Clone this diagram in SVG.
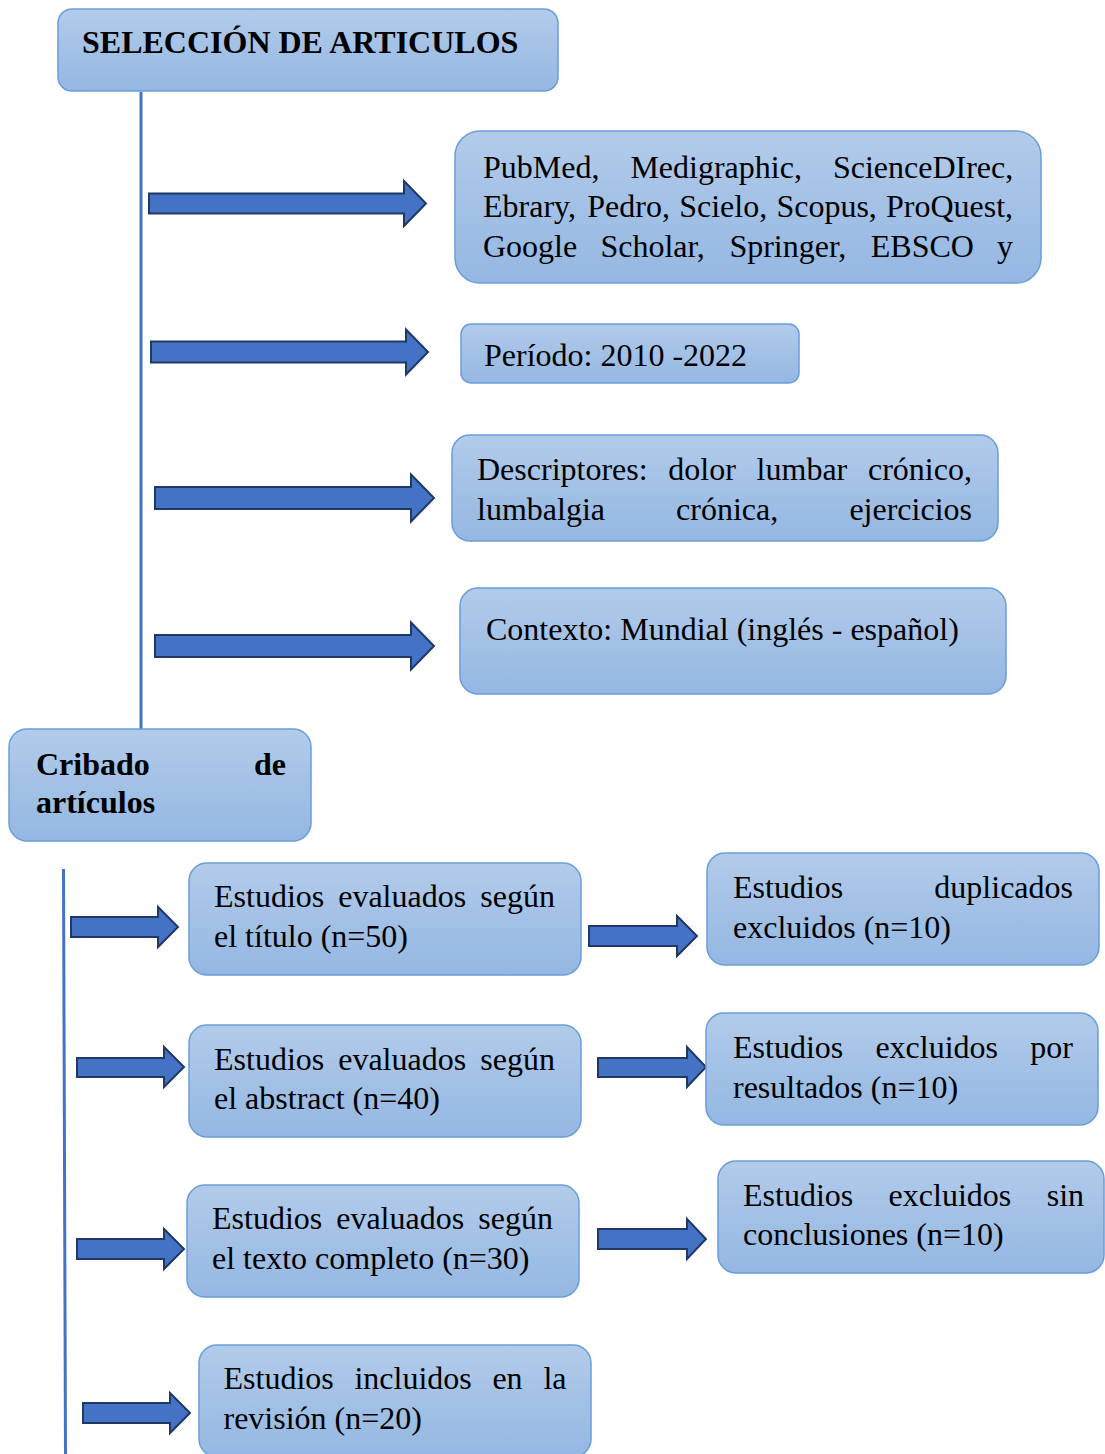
<svg xmlns="http://www.w3.org/2000/svg" width="1105" height="1454" viewBox="0 0 1105 1454">
<defs>
<linearGradient id="g" x1="0" y1="0" x2="0" y2="1">
<stop offset="0" stop-color="#b2cbea"/>
<stop offset="1" stop-color="#94b7e2"/>
</linearGradient>
<style>
.box{fill:url(#g);stroke:#6a9ed9;stroke-width:1.5}
.t{font-family:"Liberation Serif","Times New Roman",serif;font-size:32px;fill:#000}
.b{font-weight:bold}
.arr{fill:#4472c4;stroke:#1f3864;stroke-width:2;stroke-linejoin:miter}
.ln{stroke:#4472c4;stroke-width:3;fill:none}
</style>
</defs>
<rect width="1105" height="1454" fill="#ffffff"/>

<g id="connectors">
<line class="ln" x1="141" y1="92" x2="141" y2="729"/>
<line class="ln" x1="63.5" y1="869" x2="65.5" y2="1454"/>
<polygon class="arr" points="149,193.5 404,193.5 404,181 426,203.5 404,226 404,213.5 149,213.5"/>
<polygon class="arr" points="151,341.5 406,341.5 406,329.5 428,352 406,374.5 406,362.5 151,362.5"/>
<polygon class="arr" points="155,487 411,487 411,474.5 434,498 411,521.5 411,509 155,509"/>
<polygon class="arr" points="155,635 411,635 411,622.5 434,646 411,669.5 411,657 155,657"/>
<polygon class="arr" points="71,917 158,917 158,907 178,927 158,947 158,937 71,937"/>
<polygon class="arr" points="589,926 677,926 677,916 697,936 677,956 677,946 589,946"/>
<polygon class="arr" points="77,1058 164,1058 164,1047 184,1067 164,1087 164,1077 77,1077"/>
<polygon class="arr" points="598,1058 687,1058 687,1047 706,1067 687,1087 687,1077 598,1077"/>
<polygon class="arr" points="77,1239 164,1239 164,1229 184,1249 164,1269 164,1259 77,1259"/>
<polygon class="arr" points="598,1229 687,1229 687,1219 706,1239 687,1259 687,1249 598,1249"/>
<polygon class="arr" points="83,1403 170,1403 170,1393 190,1413 170,1433 170,1423 83,1423"/>
</g>

<g id="n-seleccion">
<rect class="box" x="58" y="9" width="500" height="82" rx="14"/>
<text class="t b" x="82" y="53">SELECCIÓN DE ARTICULOS</text>
</g>

<g id="n-bases">
<rect class="box" x="455" y="131" width="586" height="152" rx="25"/>
<text class="t" y="177.5"><tspan x="483">PubMed,</tspan><tspan x="630.4">Medigraphic,</tspan><tspan x="832.9">ScienceDIrec,</tspan></text>
<text class="t" y="217"><tspan x="483">Ebrary,</tspan><tspan x="587.3">Pedro,</tspan><tspan x="679.2">Scielo,</tspan><tspan x="776.4">Scopus,</tspan><tspan x="886">ProQuest,</tspan></text>
<text class="t" y="256.5"><tspan x="483">Google</tspan><tspan x="600.4">Scholar,</tspan><tspan x="729.4">Springer,</tspan><tspan x="870.8">EBSCO</tspan><tspan x="997">y</tspan></text>
</g>

<g id="n-periodo">
<rect class="box" x="461" y="324" width="338" height="59" rx="10"/>
<text class="t" x="484" y="366">Período: 2010 -2022</text>
</g>

<g id="n-descriptores">
<rect class="box" x="452" y="435" width="546" height="106" rx="18"/>
<text class="t" y="480"><tspan x="477">Descriptores:</tspan><tspan x="668.3">dolor</tspan><tspan x="756.6">lumbar</tspan><tspan x="868">crónico,</tspan></text>
<text class="t" y="519.5"><tspan x="477">lumbalgia</tspan><tspan x="676.1">crónica,</tspan><tspan x="849.4">ejercicios</tspan></text>
</g>

<g id="n-contexto">
<rect class="box" x="460" y="588" width="546" height="106" rx="18"/>
<text class="t" x="486" y="640">Contexto: Mundial (inglés - español)</text>
</g>

<g id="n-cribado">
<rect class="box" x="9" y="729" width="302" height="112" rx="18"/>
<text class="t b" x="36" y="775">Cribado</text>
<text class="t b" x="286" y="775" text-anchor="end">de</text>
<text class="t b" x="36" y="813">artículos</text>
</g>

<g id="n-titulo">
<rect class="box" x="189" y="863" width="392" height="112" rx="18"/>
<text class="t" y="907"><tspan x="214">Estudios</tspan><tspan x="338.2">evaluados</tspan><tspan x="480.3">según</tspan></text>
<text class="t" x="214" y="947">el título (n=50)</text>
</g>

<g id="n-duplicados">
<rect class="box" x="707" y="853" width="392" height="112" rx="18"/>
<text class="t" x="733" y="898">Estudios</text>
<text class="t" x="1073" y="898" text-anchor="end">duplicados</text>
<text class="t" x="733" y="938">excluidos (n=10)</text>
</g>

<g id="n-abstract">
<rect class="box" x="189" y="1025" width="392" height="112" rx="18"/>
<text class="t" y="1069.5"><tspan x="214">Estudios</tspan><tspan x="338.2">evaluados</tspan><tspan x="480.3">según</tspan></text>
<text class="t" x="214" y="1109">el abstract (n=40)</text>
</g>

<g id="n-resultados">
<rect class="box" x="706" y="1013" width="392" height="112" rx="18"/>
<text class="t" y="1058"><tspan x="733">Estudios</tspan><tspan x="875.4">excluidos</tspan><tspan x="1030.3">por</tspan></text>
<text class="t" x="733" y="1097.5">resultados (n=10)</text>
</g>

<g id="n-texto">
<rect class="box" x="187" y="1185" width="392" height="112" rx="18"/>
<text class="t" y="1229"><tspan x="212">Estudios</tspan><tspan x="336.2">evaluados</tspan><tspan x="478.3">según</tspan></text>
<text class="t" x="212" y="1268.5">el texto completo (n=30)</text>
</g>

<g id="n-conclusiones">
<rect class="box" x="718" y="1161" width="386" height="112" rx="18"/>
<text class="t" y="1205.5"><tspan x="743">Estudios</tspan><tspan x="888.6">excluidos</tspan><tspan x="1046.7">sin</tspan></text>
<text class="t" x="743" y="1245">conclusiones (n=10)</text>
</g>

<g id="n-incluidos">
<rect class="box" x="199" y="1345" width="392" height="112" rx="18"/>
<text class="t" y="1389"><tspan x="223.5">Estudios</tspan><tspan x="354.4">incluidos</tspan><tspan x="492.4">en</tspan><tspan x="543.4">la</tspan></text>
<text class="t" x="223.5" y="1428.5">revisión (n=20)</text>
</g>
</svg>
